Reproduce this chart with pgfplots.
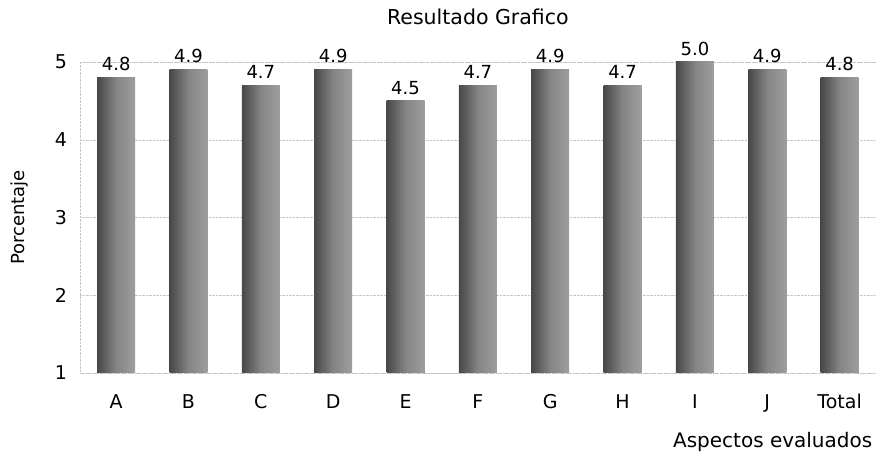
\documentclass[border=0pt]{standalone}
\usepackage{pgfplots}
\pgfplotsset{compat=1.18}
\usepackage{fontspec}
\setmainfont{DejaVu Sans}
\begin{document}
\begin{tikzpicture}
\begin{axis}[
  scale only axis,
  width=796pt, height=311pt,
  ybar, bar width=38pt, bar shift=0pt,
  xmin=-0.5, xmax=10.5,
  ymin=1, ymax=5,
  ytick={1,2,3,4,5},
  xtick={0,...,10},
  xticklabels={A,B,C,D,E,F,G,H,I,J,Total},
  /pgf/number format/assume math mode=true,
  tick label style={font=\fontsize{19}{22}\selectfont},
  ymajorgrids, xmajorgrids=false,
  grid style={densely dotted, gray!45},
  axis line style={densely dotted, gray!45},
  major tick length=0pt,
  yticklabel style={anchor=center, xshift=-19pt},
  xticklabel style={anchor=base, yshift=-36pt},
  title={Resultado Grafico},
  title style={font=\fontsize{20.5}{24}\selectfont, at={(rel axis cs:0.5,1)}, anchor=center, yshift=39pt},
  ylabel={Porcentaje},
  every axis y label/.style={at={(rel axis cs:-0.0754,0.5)}, rotate=90, anchor=center, font=\fontsize{18}{21}\selectfont},
  xlabel={Aspectos evaluados},
  every axis x label/.style={at={(rel axis cs:1,-0.222)}, anchor=east, font=\fontsize{20}{23}\selectfont},
  nodes near coords,
  every node near coord/.append style={black, yshift=3pt, font=\fontsize{18}{21}\selectfont, /pgf/number format/.cd, fixed, fixed zerofill, precision=1, assume math mode=true},
  every axis plot/.append style={draw=none, left color=black!72, right color=black!38, middle color=black!48},
  clip=false,
]
\addplot coordinates {(0,4.8)};
\addplot coordinates {(1,4.9)};
\addplot coordinates {(2,4.7)};
\addplot coordinates {(3,4.9)};
\addplot coordinates {(4,4.5)};
\addplot coordinates {(5,4.7)};
\addplot coordinates {(6,4.9)};
\addplot coordinates {(7,4.7)};
\addplot coordinates {(8,5.0)};
\addplot coordinates {(9,4.9)};
\addplot coordinates {(10,4.8)};
\path (rel axis cs:-0.1005,-0.2605) rectangle (rel axis cs:1,1.1994);
\end{axis}
\end{tikzpicture}
\end{document}
